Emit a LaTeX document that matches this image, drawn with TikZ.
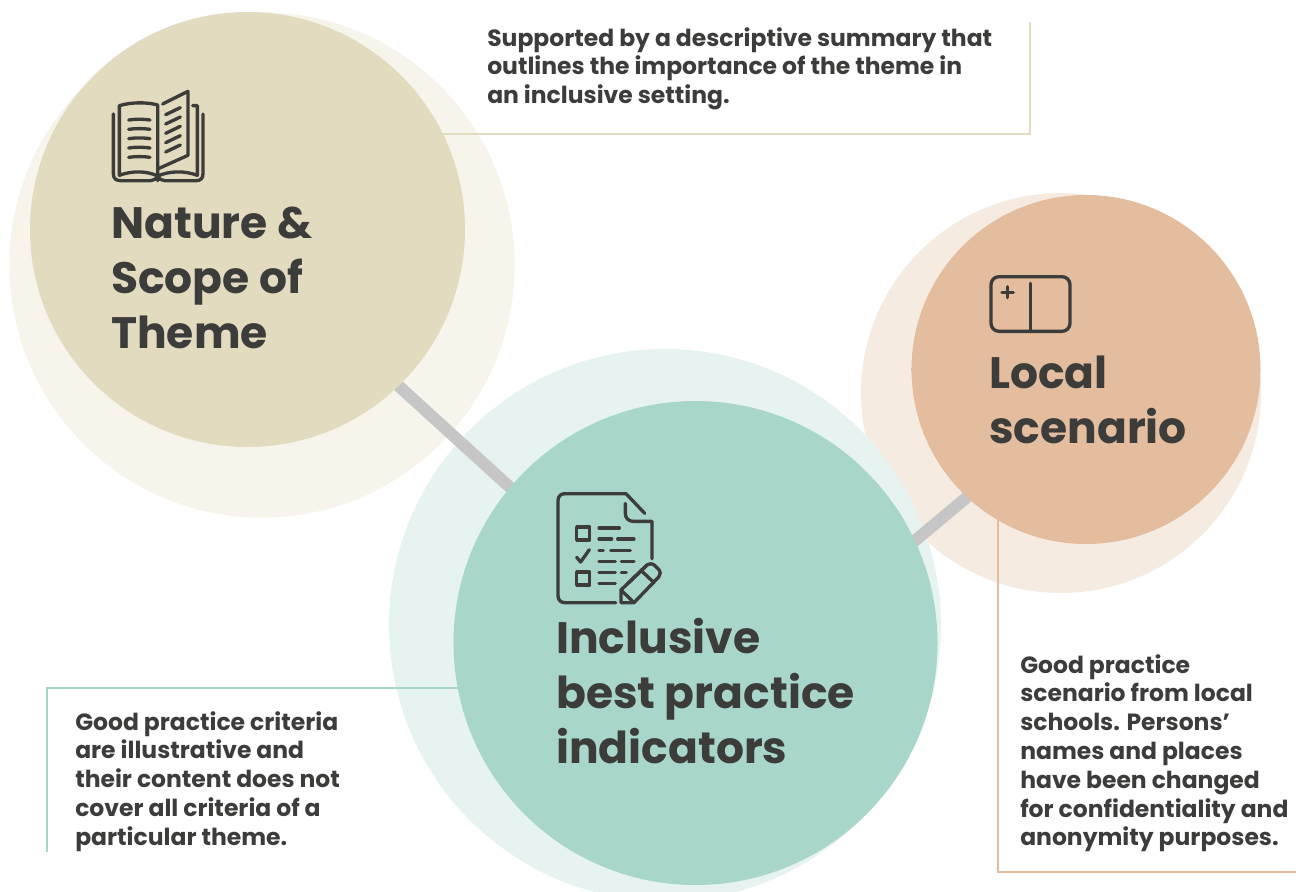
\documentclass[tikz,border=0pt]{standalone}
\usepackage{fontspec}
\setmainfont{Poppins}
\usetikzlibrary{calc}
\definecolor{inkgrey}{HTML}{3C3C3B}
\definecolor{linkgrey}{HTML}{C6C6C6}
\definecolor{sand}{HTML}{E3DBBF}
\definecolor{sandpale}{HTML}{F7F4EC}
\definecolor{mint}{HTML}{A9D6CB}
\definecolor{mintpale}{HTML}{E7F3F0}
\definecolor{peach}{HTML}{E3BD9E}
\definecolor{peachpale}{HTML}{F6EBE1}
\pgfdeclarelayer{pale}
\pgfdeclarelayer{link}
\pgfsetlayers{pale,link,main}
\tikzset{ big_disc/.style = {circle, inner sep=0pt, minimum size=#1} }
\tikzset{ title_text/.style = {anchor=north west, align=left, text=inkgrey, font=\fontsize{33}{41.2}\selectfont\bfseries} }
\tikzset{ note_text/.style = {anchor=north west, align=left, text=inkgrey, font=\fontsize{17.6}{21.6}\selectfont\bfseries} }
\tikzset{ icon_line/.style = {draw=inkgrey, line width=2.5pt, line cap=round, line join=round} }
\tikzset{ link_line/.style = {draw=linkgrey, line width=9pt, shorten >=-3pt, shorten <=-3pt} }
\tikzset{ note_line/.style = {line width=2.1pt} }
\begin{document}
\begin{tikzpicture}[x=0.75pt, y=-0.75pt]
            \useasboundingbox (0,0) rectangle (1303,892);
            % big circles
            \node[big_disc=326.25pt, fill=sand] (nature) at (247.5,229.5) {};
            \node[big_disc=363pt, fill=mint] (inclusive) at (695.5,643) {};
            \node[big_disc=261.75pt, fill=peach] (local) at (1086,369.5) {};
            % pale circles behind
            \begin{pgfonlayer}{pale}
                \node[big_disc=300pt, fill=peachpale] (local_pale) at (1061,393) {};
                \node[big_disc=414pt, fill=mintpale] (inclusive_pale) at (665,625) {};
                \node[big_disc=379pt, fill=sandpale] (nature_pale) at (262,265) {};
            \end{pgfonlayer}
            % links and note lines
            \coordinate (nature_corner) at (1030,134);
            \coordinate (nature_end) at (1030,22);
            \coordinate (inclusive_corner) at (47,688);
            \coordinate (inclusive_end) at (47,852);
            \coordinate (local_corner) at (998,872);
            \coordinate (local_end) at (1296,872);
            \begin{pgfonlayer}{link}
                \draw[link_line] (nature.-46) to (inclusive.140.6);
                \draw[link_line] (local.227.8) to (inclusive.25.2);
                \draw[note_line, draw=sand] (nature) |- (nature_corner) -- (nature_end);
                \draw[note_line, draw=mint] (inclusive) |- (inclusive_corner) -- (inclusive_end);
                \draw[note_line, draw=peach] (local) -| (local_corner) -- (local_end);
            \end{pgfonlayer}
            % titles
            \node[title_text, inner sep=0pt] (nature_title) at (111,207) {Nature \&\\Scope of\\Theme};
            \node[title_text, inner sep=0pt] (inclusive_title) at (556,618) {Inclusive\\best practice\\indicators};
            \node[title_text, inner sep=0pt] (local_title) at (989,356) {Local\\scenario};
            % notes
            \node[note_text, inner sep=0pt] (nature_note) at (487,27) {Supported by a descriptive summary that\\outlines the importance of the theme in\\an inclusive setting.};
            \node[note_text, inner sep=0pt] (inclusive_note) at (75,711) {Good practice criteria\\are illustrative and\\their content does not\\cover all criteria of a\\particular theme.};
            \node[note_text, inner sep=0pt] (local_note) at (1020,654) {Good practice\\scenario from local\\schools. Persons’\\names and places\\have been changed\\for confidentiality and\\anonymity purposes.};
            % book icon
            \begin{scope}[shift={(90,70)}, x=0.25pt, y=-0.25pt]
                \draw[icon_line] (70,132) -- (70,310) .. controls (70,326) and (78,332) .. (92,332) -- (182,332) .. controls (192,332) and (200,326) .. (203,318) .. controls (206,326) and (214,332) .. (224,332) -- (318,332) .. controls (332,332) and (339,326) .. (339,310) -- (339,132);
                \draw[icon_line] (203,332) -- (203,105) .. controls (170,96) and (125,96) .. (88,107) -- (88,316) .. controls (125,302) and (170,302) .. (203,318) .. controls (240,302) and (285,302) .. (322,316) -- (322,107) -- (308,107);
                \draw[icon_line] (218,102) -- (294,64) -- (294,256) -- (205,296);
                \foreach \ya in {150,178,206,234,262} \draw[icon_line] (116,\ya) .. controls (135,\ya-3) and (160,\ya-3) .. (180,\ya);
                \foreach \ya in {134,162,190,218,246} \draw[icon_line] (227,\ya) -- (271,\ya-21);
            \end{scope}
            % checklist icon
            \begin{scope}[shift={(540,480)}, x=0.25pt, y=-0.25pt]
                \draw[icon_line] (227,368) -- (75,368) .. controls (62,368) and (54,360) .. (54,347) -- (54,62) .. controls (54,49) and (62,41) .. (75,41) -- (258,41) -- (314,100);
                \draw[icon_line] (256,70) -- (256,100) .. controls (256,115) and (266,124) .. (280,124) -- (336,124) -- (336,236);
                \draw[icon_line] (110,141) rectangle (149,180);
                \draw[icon_line] (110,276) rectangle (149,315);
                \draw[icon_line] (110,232) -- (122,246) -- (148,209);
                \draw[icon_line] (177,144) -- (238,144);
                \draw[icon_line] (177,177) -- (215,177) (233,177) -- (282,177);
                \draw[icon_line] (177,211) -- (190,211) (212,211) -- (271,211);
                \draw[icon_line] (177,244) -- (226,244) (244,244) -- (282,244);
                \draw[icon_line] (177,278) -- (226,278) (244,278) -- (259,278);
                \draw[icon_line] (177,311) -- (226,311);
                \draw[icon_line] (243,368) -- (243,330) -- (320,256) .. controls (328,250) and (336,250) .. (344,256) -- (356,268) .. controls (362,276) and (362,284) .. (356,291) -- (282,368) -- cycle;
                \draw[icon_line] (243,330) -- (282,368) (304,272) -- (342,308) (262,312) -- (321,255);
            \end{scope}
            % panel icon
            \begin{scope}[shift={(970,260)}, x=0.25pt, y=-0.25pt]
                \draw[icon_line, rounded corners=6pt] (63,50) rectangle (300,214);
                \draw[icon_line] (181,70) -- (181,214);
                \draw[icon_line] (113,80) -- (113,113) (96,97) -- (130,97);
            \end{scope}
        \end{tikzpicture}
\end{document}
